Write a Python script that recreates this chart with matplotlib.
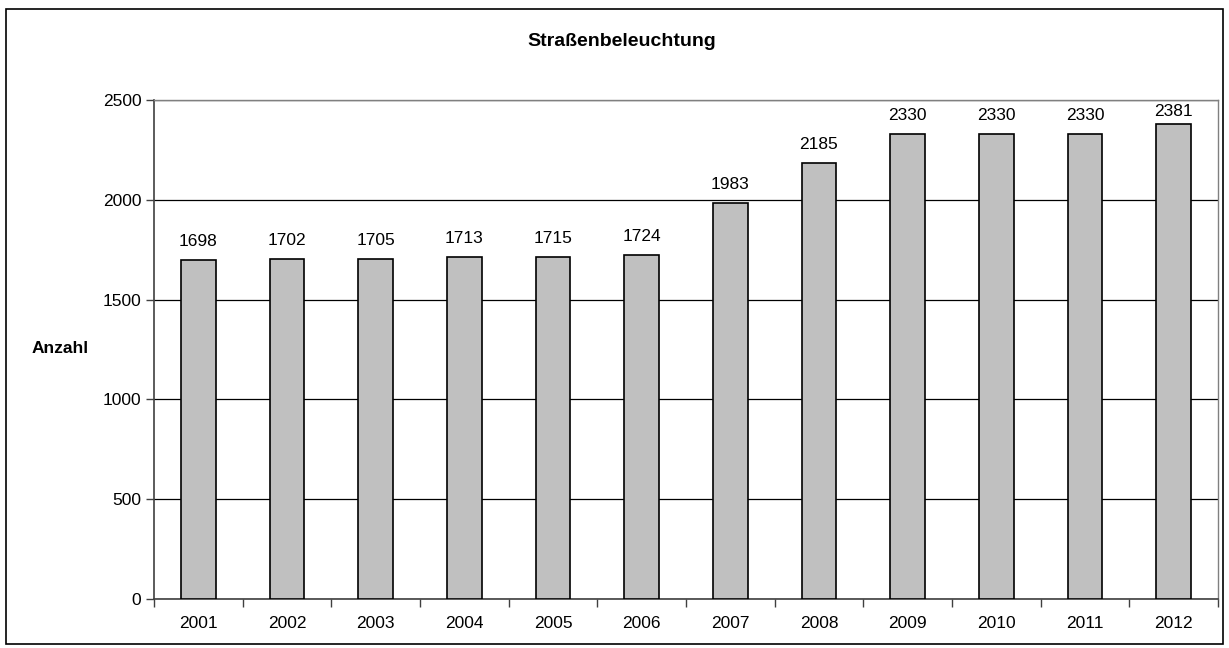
import matplotlib.pyplot as plt
from matplotlib.patches import Rectangle
import numpy as np

jahre = ['2001', '2002', '2003', '2004', '2005', '2006',
         '2007', '2008', '2009', '2010', '2011', '2012']
anzahl = [1698, 1702, 1705, 1713, 1715, 1724, 1983, 2185, 2330, 2330, 2330, 2381]

plt.rcParams['font.family'] = ['Liberation Sans', 'DejaVu Sans']

fig = plt.figure(figsize=(12.29, 6.48), dpi=100)
W, H = 1229, 648

# plot area in pixel coordinates
left, right, top, bottom = 154, 1218, 100, 599
ax = fig.add_axes([left / W, 1 - bottom / H, (right - left) / W, (bottom - top) / H])

ymax = 2500
x = np.arange(len(jahre))
ax.bar(x, anzahl, width=0.39, color='#c0c0c0', edgecolor='black', linewidth=1.2, zorder=3)

# value labels above the bars; keep them inside the plot area near the top
px_per_unit = (bottom - top) / ymax
for xi, v in zip(x, anzahl):
    if (ymax - v) * px_per_unit < 30:
        ax.annotate(str(v), (xi, ymax), xytext=(0, -3), textcoords='offset points',
                    ha='center', va='top', fontsize=12.5)
    else:
        ax.annotate(str(v), (xi, v), xytext=(0, 8), textcoords='offset points',
                    ha='center', va='bottom', fontsize=12.5)

ax.set_xlim(-0.5, len(jahre) - 0.5)
ax.set_ylim(0, ymax)
ax.set_yticks(range(0, ymax + 1, 500))
ax.yaxis.grid(True, color='black', linewidth=0.9, zorder=0)

# category labels centred, tick marks between categories
ax.set_xticks(x)
ax.set_xticklabels(jahre, fontsize=12.5)
ax.tick_params(axis='x', length=0, pad=12)
ax.set_xticks(np.arange(-0.5, len(jahre)), minor=True)
ax.tick_params(axis='x', which='minor', length=6, width=1, color='#404040')
ax.tick_params(axis='y', length=6, width=1, labelsize=12.5, pad=3, color='#404040')

for s in ['left', 'bottom']:
    ax.spines[s].set_color('#404040')
    ax.spines[s].set_linewidth(1.2)
for s in ['top', 'right']:
    ax.spines[s].set_color('#808080')
    ax.spines[s].set_linewidth(1)

fig.text(622 / W, 1 - 42 / H, 'Straßenbeleuchtung',
         ha='center', va='center', fontsize=14, fontweight='bold')
fig.text(60 / W, 1 - 349 / H, 'Anzahl', ha='center', va='center',
         fontsize=12.5, fontweight='bold')

# frame around the whole chart
fig.patches.append(Rectangle((6 / W, 1 - 644 / H), (1223 - 6) / W, (644 - 9) / H,
                             transform=fig.transFigure, fill=False,
                             edgecolor='black', linewidth=1.2))

fig.savefig('out.png', dpi=100)
